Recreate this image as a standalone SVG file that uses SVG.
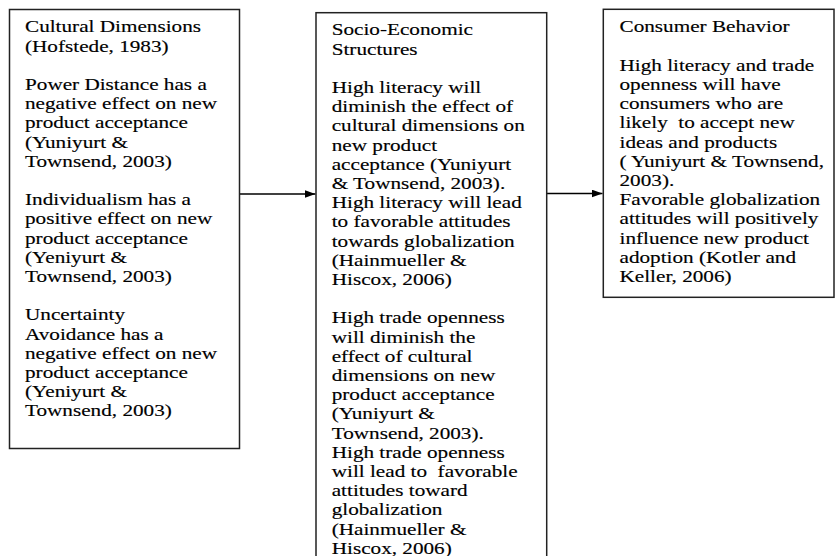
<svg xmlns="http://www.w3.org/2000/svg" width="839" height="556" viewBox="0 0 839 556">
  <style>
    .box { fill: #ffffff; stroke: #222222; stroke-width: 1.5; }
    .conn { stroke: #000000; stroke-width: 1.3; fill: none; }
    .t { font-family: "Liberation Serif", "Times New Roman", serif; font-size: 16.5px; fill: #000000; stroke: #000000; stroke-width: 0.15; white-space: pre; }
  </style>
  <defs>
    <marker id="arrow" viewBox="0 0 11 8" refX="11" refY="4" markerWidth="11" markerHeight="8" markerUnits="userSpaceOnUse" orient="auto">
      <path d="M0,0 L11,4 L0,8 Z" fill="#000000"/>
    </marker>
  </defs>
  <rect width="839" height="556" fill="#ffffff"/>

  <g id="connectors">
    <line class="conn" x1="240" y1="194" x2="315.5" y2="194" marker-end="url(#arrow)"/>
    <line class="conn" x1="547" y1="193.5" x2="602.5" y2="193.5" marker-end="url(#arrow)"/>
  </g>

  <g id="cultural-dimensions">
    <rect class="box" x="9.5" y="9.5" width="230" height="439"/>
    <g transform="translate(25,0) scale(1.285,1)">
      <text class="t" x="0" y="32.5">Cultural Dimensions</text>
      <text class="t" x="0" y="51.7">(Hofstede, 1983)</text>
      <text class="t" x="0" y="90.1">Power Distance has a</text>
      <text class="t" x="0" y="109.3">negative effect on new</text>
      <text class="t" x="0" y="128.5">product acceptance</text>
      <text class="t" x="0" y="147.7">(Yuniyurt &amp;</text>
      <text class="t" x="0" y="166.9">Townsend, 2003)</text>
      <text class="t" x="0" y="205.3">Individualism has a</text>
      <text class="t" x="0" y="224.5">positive effect on new</text>
      <text class="t" x="0" y="243.7">product acceptance</text>
      <text class="t" x="0" y="262.9">(Yeniyurt &amp;</text>
      <text class="t" x="0" y="282.1">Townsend, 2003)</text>
      <text class="t" x="0" y="320.5">Uncertainty</text>
      <text class="t" x="0" y="339.7">Avoidance has a</text>
      <text class="t" x="0" y="358.9">negative effect on new</text>
      <text class="t" x="0" y="378.1">product acceptance</text>
      <text class="t" x="0" y="397.3">(Yeniyurt &amp;</text>
      <text class="t" x="0" y="416.5">Townsend, 2003)</text>
    </g>
  </g>

  <g id="socio-economic-structures">
    <rect class="box" x="316" y="12.7" width="230.7" height="560"/>
    <g transform="translate(331.7,0) scale(1.285,1)">
      <text class="t" x="0" y="35.5">Socio-Economic</text>
      <text class="t" x="0" y="54.7">Structures</text>
      <text class="t" x="0" y="93.1">High literacy will</text>
      <text class="t" x="0" y="112.3">diminish the effect of</text>
      <text class="t" x="0" y="131.5">cultural dimensions on</text>
      <text class="t" x="0" y="150.7">new product</text>
      <text class="t" x="0" y="169.9">acceptance (Yuniyurt</text>
      <text class="t" x="0" y="189.1">&amp; Townsend, 2003).</text>
      <text class="t" x="0" y="208.3">High literacy will lead</text>
      <text class="t" x="0" y="227.5">to favorable attitudes</text>
      <text class="t" x="0" y="246.7">towards globalization</text>
      <text class="t" x="0" y="265.9">(Hainmueller &amp;</text>
      <text class="t" x="0" y="285.1">Hiscox, 2006)</text>
      <text class="t" x="0" y="323.5">High trade openness</text>
      <text class="t" x="0" y="342.7">will diminish the</text>
      <text class="t" x="0" y="361.9">effect of cultural</text>
      <text class="t" x="0" y="381.1">dimensions on new</text>
      <text class="t" x="0" y="400.3">product acceptance</text>
      <text class="t" x="0" y="419.5">(Yuniyurt &amp;</text>
      <text class="t" x="0" y="438.7">Townsend, 2003).</text>
      <text class="t" x="0" y="457.9">High trade openness</text>
      <text class="t" x="0" y="477.1">will lead to  favorable</text>
      <text class="t" x="0" y="496.3">attitudes toward</text>
      <text class="t" x="0" y="515.5">globalization</text>
      <text class="t" x="0" y="534.7">(Hainmueller &amp;</text>
      <text class="t" x="0" y="553.9">Hiscox, 2006)</text>
    </g>
  </g>

  <g id="consumer-behavior">
    <rect class="box" x="603.3" y="9.3" width="230.7" height="288"/>
    <g transform="translate(619.5,0) scale(1.285,1)">
      <text class="t" x="0" y="32.5">Consumer Behavior</text>
      <text class="t" x="0" y="70.9">High literacy and trade</text>
      <text class="t" x="0" y="90.1">openness will have</text>
      <text class="t" x="0" y="109.3">consumers who are</text>
      <text class="t" x="0" y="128.5">likely  to accept new</text>
      <text class="t" x="0" y="147.7">ideas and products</text>
      <text class="t" x="0" y="166.9">( Yuniyurt &amp; Townsend,</text>
      <text class="t" x="0" y="186.1">2003).</text>
      <text class="t" x="0" y="205.3">Favorable globalization</text>
      <text class="t" x="0" y="224.5">attitudes will positively</text>
      <text class="t" x="0" y="243.7">influence new product</text>
      <text class="t" x="0" y="262.9">adoption (Kotler and</text>
      <text class="t" x="0" y="282.1">Keller, 2006)</text>
    </g>
  </g>
</svg>
